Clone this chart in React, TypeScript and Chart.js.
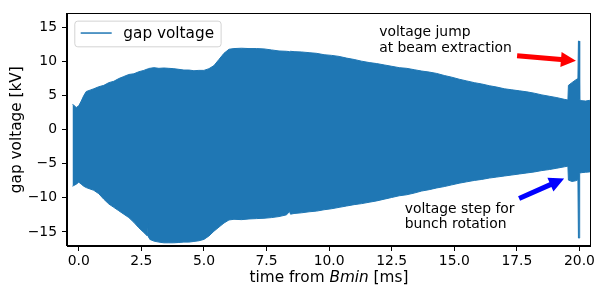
import React, { useEffect, useRef } from "react";
import { Chart, registerables } from "chart.js";

Chart.register(...registerables);

// ---------- data ----------
const timeMs = [
  -0.25, -0.2, -0.1, 0.0, 0.1, 0.2, 0.3, 0.45, 0.6, 0.8, 1.0, 1.2, 1.4, 1.6, 1.8, 2.0, 2.2, 2.4, 2.6,
  2.74, 2.78, 2.8, 2.84, 3.0, 3.2, 3.4, 3.6, 3.8, 4.0, 4.2, 4.4, 4.6, 4.8, 5.0, 5.2, 5.4, 5.6, 5.8,
  6.0, 6.2, 6.5, 6.8, 7.1, 7.4, 7.7, 8.0, 8.3, 8.42, 8.46, 8.6, 8.9, 9.2, 9.5, 9.8, 10.1, 10.4, 10.7,
  11.0, 11.3, 11.6, 11.9, 12.2, 12.5, 12.8, 13.1, 13.4, 13.7, 14.0, 14.3, 14.6, 14.9, 15.2, 15.5,
  15.8, 16.1, 16.4, 16.7, 17.0, 17.3, 17.6, 17.9, 18.2, 18.5, 18.8, 19.1, 19.4, 19.54, 19.56, 19.7,
  19.85, 19.94, 19.96, 19.99, 20.01, 20.04, 20.1, 20.25, 20.4, 20.46,
];

const upperKV = [
  3.7, 3.6, 3.25, 3.5, 4.2, 5.0, 5.6, 5.8, 6.0, 6.3, 6.5, 6.9, 7.1, 7.5, 7.8, 8.1, 8.2, 8.5, 8.7,
  8.9, 8.95, 9.0, 9.0, 9.1, 9.0, 9.05, 9.0, 8.95, 8.85, 8.75, 8.75, 8.65, 8.7, 8.7, 8.95, 9.4, 10.3,
  11.2, 11.8, 11.9, 11.95, 11.9, 11.9, 11.85, 11.7, 11.55, 11.5, 11.45, 11.5, 11.45, 11.4, 11.3, 11.2,
  11.0, 10.9, 10.75, 10.5, 10.3, 10.05, 9.85, 9.7, 9.5, 9.3, 9.1, 9.0, 8.8, 8.6, 8.45, 8.25, 7.95,
  7.7, 7.4, 7.15, 6.9, 6.7, 6.45, 6.25, 6.0, 5.85, 5.7, 5.55, 5.35, 5.1, 4.9, 4.7, 4.45, 4.35, 6.5,
  6.9, 7.3, 7.5, 13.0, 13.0, 4.5, 4.3, 4.25, 4.2, 4.3, 4.25,
];

const lowerKV = [
  -8.3, -8.2, -8.0, -7.7, -8.0, -8.3, -8.5, -8.7, -8.9, -9.4, -10.2, -10.9, -11.4, -11.9, -12.4,
  -12.9, -13.6, -14.4, -15.1, -15.6, -13.7, -15.8, -16.1, -16.35, -16.5, -16.6, -16.6, -16.6, -16.55,
  -16.5, -16.5, -16.4, -16.3, -16.1, -15.6, -14.9, -14.3, -13.7, -13.25, -13.15, -13.2, -13.1,
  -13.05, -13.0, -12.9, -12.75, -12.5, -12.0, -12.4, -12.3, -12.2, -12.05, -11.95, -11.75, -11.6,
  -11.4, -11.2, -11.0, -10.85, -10.65, -10.45, -10.2, -9.95, -9.7, -9.55, -9.3, -9.0, -8.8, -8.55,
  -8.35, -8.1, -7.85, -7.65, -7.45, -7.3, -7.1, -6.95, -6.8, -6.65, -6.5, -6.35, -6.2, -6.0, -5.85,
  -5.65, -5.45, -5.35, -7.4, -7.6, -7.5, -7.35, -15.9, -15.9, -6.4, -6.35, -6.3, -6.25, -6.2, -6.2,
];

const xTicks = [0, 2.5, 5, 7.5, 10, 12.5, 15, 17.5, 20];
const yTicks = [-15, -10, -5, 0, 5, 10, 15];
const seriesLabel = "gap voltage";
const yTitle = "gap voltage [kV]";
const xTitleParts = [
  { text: "time from ", italic: false },
  { text: "Bmin", italic: true },
  { text: " [ms]", italic: false },
];
const jumpText = ["voltage jump", "at beam extraction"];
const stepText = ["voltage step for", "bunch rotation"];

// ---------- styling ----------
const BLUE = "#1f77b4";
const FONT = "DejaVu Sans";
const FS = 13.9;
const FS_L = 15.3;

function drawArrow(ctx: CanvasRenderingContext2D, x0: number, y0: number, x1: number, y1: number, color: string) {
  const shaftW = 5, headW = 15, headL = 15;
  const dx = x1 - x0, dy = y1 - y0;
  const len = Math.hypot(dx, dy);
  const ux = dx / len, uy = dy / len;
  const nx = -uy, ny = ux;
  const bx = x1 - ux * headL, by = y1 - uy * headL;
  ctx.beginPath();
  ctx.moveTo(x0 + nx * shaftW / 2, y0 + ny * shaftW / 2);
  ctx.lineTo(bx + nx * shaftW / 2, by + ny * shaftW / 2);
  ctx.lineTo(bx + nx * headW / 2, by + ny * headW / 2);
  ctx.lineTo(x1, y1);
  ctx.lineTo(bx - nx * headW / 2, by - ny * headW / 2);
  ctx.lineTo(bx - nx * shaftW / 2, by - ny * shaftW / 2);
  ctx.lineTo(x0 - nx * shaftW / 2, y0 - ny * shaftW / 2);
  ctx.closePath();
  ctx.fillStyle = color;
  ctx.fill();
}

const overlayPlugin = {
  id: "overlay",
  afterDraw(chart: any) {
    const { ctx, chartArea } = chart;
    const x = chart.scales.x, y = chart.scales.y;
    ctx.save();
    // frame
    ctx.strokeStyle = "#000";
    ctx.lineWidth = 1;
    const l = Math.round(chartArea.left) - 0.5, t = Math.round(chartArea.top) + 0.5;
    const r = Math.round(chartArea.right) - 0.5, b = Math.round(chartArea.bottom) - 0.5;
    ctx.strokeRect(l, t, r - l, b - t);

    // legend
    const lx = chartArea.left + 7.3, ly = chartArea.top + 7.3;
    ctx.font = `${FS_L}px "${FONT}"`;
    const tw = ctx.measureText(seriesLabel).width;
    const w = 49 + tw + 6.5, h = 25.7;
    ctx.beginPath();
    (ctx as any).roundRect(lx + 0.5, ly + 0.5, w, h, 3);
    ctx.fillStyle = "rgba(255,255,255,0.8)";
    ctx.fill();
    ctx.strokeStyle = "#d3d3d3";
    ctx.lineWidth = 1;
    ctx.stroke();
    ctx.beginPath();
    ctx.moveTo(lx + 6.4, ly + 12.4);
    ctx.lineTo(lx + 37.4, ly + 12.4);
    ctx.strokeStyle = BLUE;
    ctx.lineWidth = 1.5;
    ctx.stroke();
    ctx.fillStyle = "#000";
    ctx.textBaseline = "alphabetic";
    ctx.textAlign = "left";
    ctx.fillText(seriesLabel, lx + 49, ly + 17.3);

    // annotations
    drawArrow(ctx, x.getPixelForValue(17.51), y.getPixelForValue(10.84), x.getPixelForValue(19.86), y.getPixelForValue(10.12), "#ff0000");
    drawArrow(ctx, x.getPixelForValue(17.59), y.getPixelForValue(-10.09), x.getPixelForValue(19.39), y.getPixelForValue(-7.18), "#0000ff");
    ctx.font = `${FS}px "${FONT}"`;
    ctx.fillStyle = "#000";
    const jx = x.getPixelForValue(12.0), jy = y.getPixelForValue(13.68);
    jumpText.forEach((s, i) => ctx.fillText(s, jx, jy + i * 16));
    const sx = x.getPixelForValue(13.02), sy = y.getPixelForValue(-12.17);
    stepText.forEach((s, i) => ctx.fillText(s, sx, sy + i * 15.5));

    // axis titles
    ctx.save();
    ctx.font = `${FS_L}px "${FONT}"`;
    ctx.translate(17, (chartArea.top + chartArea.bottom) / 2);
    ctx.rotate(-Math.PI / 2);
    ctx.textAlign = "center";
    ctx.textBaseline = "middle";
    ctx.fillText(yTitle, 0, 0);
    ctx.restore();

    const fonts = xTitleParts.map((p) => (p.italic ? `oblique ${FS_L}px "${FONT}"` : `${FS_L}px "${FONT}"`));
    let total = 0;
    const widths = xTitleParts.map((p, i) => {
      ctx.font = fonts[i];
      const wd = ctx.measureText(p.text).width;
      total += wd;
      return wd;
    });
    let cx = (chartArea.left + chartArea.right) / 2 - total / 2;
    ctx.textAlign = "left";
    ctx.textBaseline = "alphabetic";
    xTitleParts.forEach((p, i) => {
      ctx.font = fonts[i];
      ctx.fillText(p.text, cx, 281.5);
      cx += widths[i];
    });
    ctx.restore();
  },
};

export default function App() {
  const ref = useRef<HTMLCanvasElement | null>(null);
  useEffect(() => {
    if (!ref.current) return;
    Chart.defaults.font.family = FONT;
    Chart.defaults.font.size = FS;
    Chart.defaults.color = "#000";
    const upper = timeMs.map((t, i) => ({ x: t, y: upperKV[i] }));
    const lower = timeMs.map((t, i) => ({ x: t, y: lowerKV[i] }));
    const chart = new Chart(ref.current, {
      type: "line",
      data: {
        datasets: [
          {
            label: seriesLabel,
            data: upper,
            borderColor: BLUE,
            backgroundColor: BLUE,
            borderWidth: 1,
            pointRadius: 0,
            tension: 0,
            fill: "+1",
          },
          {
            label: "_lower",
            data: lower,
            borderColor: BLUE,
            backgroundColor: BLUE,
            borderWidth: 1,
            pointRadius: 0,
            tension: 0,
            fill: false,
          },
        ],
      },
      options: {
        animation: false,
        responsive: false,
        devicePixelRatio: 1,
        layout: { padding: { left: 0, right: 5, top: 12, bottom: 0 } },
        plugins: { legend: { display: false }, tooltip: { enabled: false } },
        scales: {
          x: {
            type: "linear",
            min: -0.47,
            max: 20.46,
            afterFit: (s: any) => { s.height = 40; },
            afterBuildTicks: (s: any) => { s.ticks = xTicks.map((v) => ({ value: v })); },
            ticks: { callback: (v: any) => Number(v).toFixed(1), padding: 2, maxRotation: 0, autoSkip: false },
            grid: { drawOnChartArea: false, drawTicks: true, tickLength: 5, color: "#000", lineWidth: 1 },
            border: { display: true, color: "#000", width: 1 },
          },
          y: {
            type: "linear",
            min: -17.07,
            max: 17.07,
            afterFit: (s: any) => { s.width = 67; },
            afterBuildTicks: (s: any) => { s.ticks = yTicks.map((v) => ({ value: v })); },
            ticks: {
              callback: (v: any) => (Number(v) < 0 ? "\u2212" + Math.abs(Number(v)) : String(v)),
              padding: 5,
              autoSkip: false,
            },
            grid: { drawOnChartArea: false, drawTicks: true, tickLength: 5, color: "#000", lineWidth: 1 },
            border: { display: true, color: "#000", width: 1 },
          },
        },
      },
      plugins: [overlayPlugin],
    });
    return () => chart.destroy();
  }, []);
  return (
    <div style={{ position: "fixed", left: 0, top: 0, width: 597, height: 286, background: "#fff" }}>
      <canvas ref={ref} width={597} height={286} style={{ width: 597, height: 286, display: "block" }} />
    </div>
  );
}
